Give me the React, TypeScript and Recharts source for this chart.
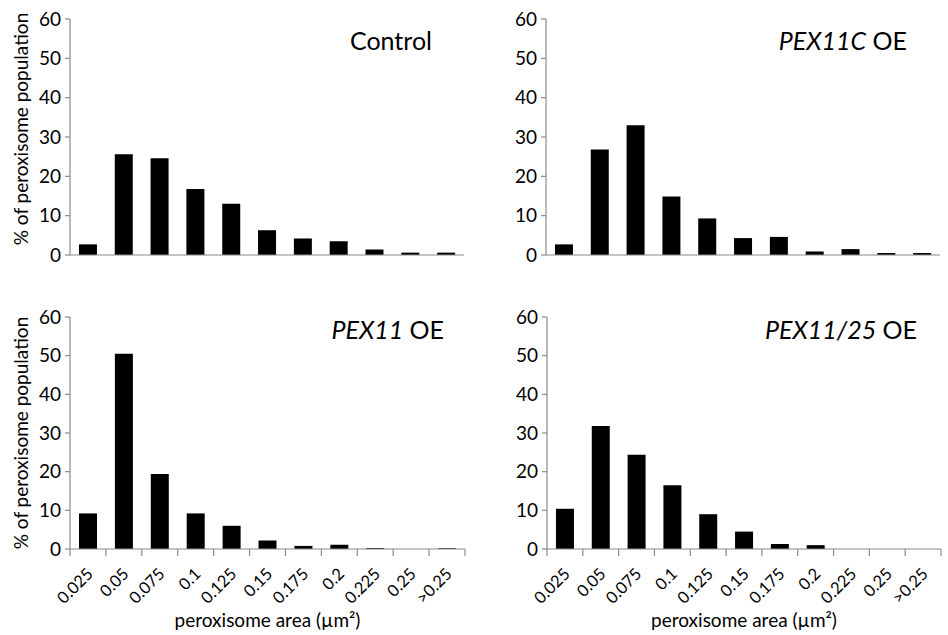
import React from 'react';
import { BarChart, Bar, XAxis, YAxis } from 'recharts';

const bins = ['0.025', '0.05', '0.075', '0.1', '0.125', '0.15', '0.175', '0.2', '0.225', '0.25', '>0.25'];
const controlValues = [2.7, 25.6, 24.6, 16.8, 13.0, 6.3, 4.2, 3.5, 1.4, 0.6, 0.6];
const pex11cValues = [2.7, 26.8, 33.0, 14.9, 9.3, 4.3, 4.6, 0.9, 1.5, 0.5, 0.5];
const pex11Values = [9.2, 50.5, 19.4, 9.2, 6.0, 2.2, 0.8, 1.1, 0.25, 0, 0.2];
const pex1125Values = [10.4, 31.8, 24.4, 16.5, 9.0, 4.5, 1.3, 1.0, 0, 0, 0];
const yTicks = [0, 10, 20, 30, 40, 50, 60];

const yTitle = '% of peroxisome population';
const xTitle = 'peroxisome area (µm²)';

const FONT = 'Lato, "Open Sans", sans-serif';
const AXIS = '#8a8a8a';

type PanelProps = {
  values: number[];
  left: number;
  top: number;
  height: number;
  plotTop: number;
  plotBottom: number;
  plotLeft: number;
  plotRight: number;
  showX: boolean;
  showYTitle: boolean;
  yTitleShift: number;
};

const makeBinTick = (bw: number, n: number) => (props: any) => {
  const { x, y, payload } = props;
  const i = payload && payload.index !== undefined ? payload.index : props.index;
  const lx = x - bw / 2;
  const ex = x + 6;
  const ey = y + 26;
  return (
    <g>
      <line x1={lx} y1={y} x2={lx} y2={y + 7} stroke={AXIS} strokeWidth={1.2} />
      {i === n - 1 && <line x1={x + bw / 2} y1={y} x2={x + bw / 2} y2={y + 7} stroke={AXIS} strokeWidth={1.2} />}
      <text
        x={ex}
        y={ey}
        textAnchor="end"
        transform={`rotate(-45 ${ex} ${ey})`}
        fontSize={16.5}
        fontFamily={FONT}
        fill="#000"
      >
        {payload.value}
      </text>
    </g>
  );
};

function Panel(p: PanelProps) {
  const width = 474;
  const data = bins.map((b, i) => ({ bin: b, v: p.values[i] }));
  const bw = (p.plotRight - p.plotLeft) / bins.length;
  const xHeight = p.height - p.plotBottom;
  return (
    <div style={{ position: 'absolute', left: p.left, top: p.top, width, height: p.height }}>
      <BarChart
        width={width}
        height={p.height}
        data={data}
        margin={{ top: p.plotTop, right: width - p.plotRight, left: 0, bottom: 0 }}
        barCategoryGap="25%"
      >
        <XAxis
          dataKey="bin"
          type="category"
          interval={0}
          height={xHeight}
          axisLine={{ stroke: AXIS, strokeWidth: 1.2 }}
          tickLine={false}
          tickSize={0}
          tickMargin={0}
          tick={p.showX ? makeBinTick(bw, bins.length) : false}
          label={
            p.showX
              ? {
                  content: (lp: any) => {
                    const vb = lp.viewBox || {};
                    return (
                      <text
                        x={vb.x + vb.width / 2}
                        y={vb.y + 78}
                        textAnchor="middle"
                        fontSize={19}
                        fontFamily={FONT}
                        fill="#000"
                      >
                        {xTitle}
                      </text>
                    );
                  },
                }
              : undefined
          }
        />
        <YAxis
          width={p.plotLeft}
          domain={[0, 60]}
          ticks={yTicks}
          interval={0}
          axisLine={{ stroke: AXIS, strokeWidth: 1.2 }}
          tickLine={{ stroke: AXIS, strokeWidth: 1.2 }}
          tickSize={5}
          tickMargin={4}
          tick={{ fill: '#000', fontSize: 19, fontFamily: FONT }}
          label={
            p.showYTitle
              ? {
                  content: (lp: any) => {
                    const vb = lp.viewBox || {};
                    const cx = 20;
                    const cy = vb.y + vb.height / 2 + p.yTitleShift;
                    return (
                      <text
                        x={cx}
                        y={cy}
                        textAnchor="middle"
                        dominantBaseline="central"
                        transform={`rotate(-90 ${cx} ${cy})`}
                        fontSize={19}
                        fontFamily={FONT}
                        fill="#000"
                      >
                        {yTitle}
                      </text>
                    );
                  },
                }
              : undefined
          }
        />
        <Bar dataKey="v" fill="#000" isAnimationActive={false} />
      </BarChart>
    </div>
  );
}

export default function App() {
  return (
    <div style={{ position: 'absolute', left: 0, top: 0, width: 948, height: 635, background: '#fff', fontFamily: FONT }}>
      <Panel values={controlValues} left={0} top={0} height={300} plotTop={19} plotBottom={255} plotLeft={70} plotRight={464} showX={false} showYTitle={true} yTitleShift={-8} />
      <Panel values={pex11cValues} left={474} top={0} height={300} plotTop={19} plotBottom={255} plotLeft={72} plotRight={466} showX={false} showYTitle={false} yTitleShift={0} />
      <Panel values={pex11Values} left={0} top={300} height={335} plotTop={17} plotBottom={249} plotLeft={70} plotRight={465} showX={true} showYTitle={true} yTitleShift={0} />
      <Panel values={pex1125Values} left={474} top={300} height={335} plotTop={17} plotBottom={249} plotLeft={73} plotRight={467} showX={true} showYTitle={false} yTitleShift={0} />
      <svg width={948} height={635} style={{ position: 'absolute', left: 0, top: 0, pointerEvents: 'none' }}>
        <text x={432} y={50} textAnchor="end" fontSize={25} fontFamily={FONT} fill="#000">Control</text>
        <text x={907} y={50} textAnchor="end" fontSize={25} fontFamily={FONT} fill="#000">
          <tspan fontStyle="italic">PEX11C</tspan> OE
        </text>
        <text x={444} y={339} textAnchor="end" fontSize={25} fontFamily={FONT} fill="#000">
          <tspan fontStyle="italic">PEX11</tspan> OE
        </text>
        <text x={917} y={339} textAnchor="end" fontSize={25} fontFamily={FONT} fill="#000">
          <tspan fontStyle="italic">PEX11/25</tspan> OE
        </text>
      </svg>
    </div>
  );
}
